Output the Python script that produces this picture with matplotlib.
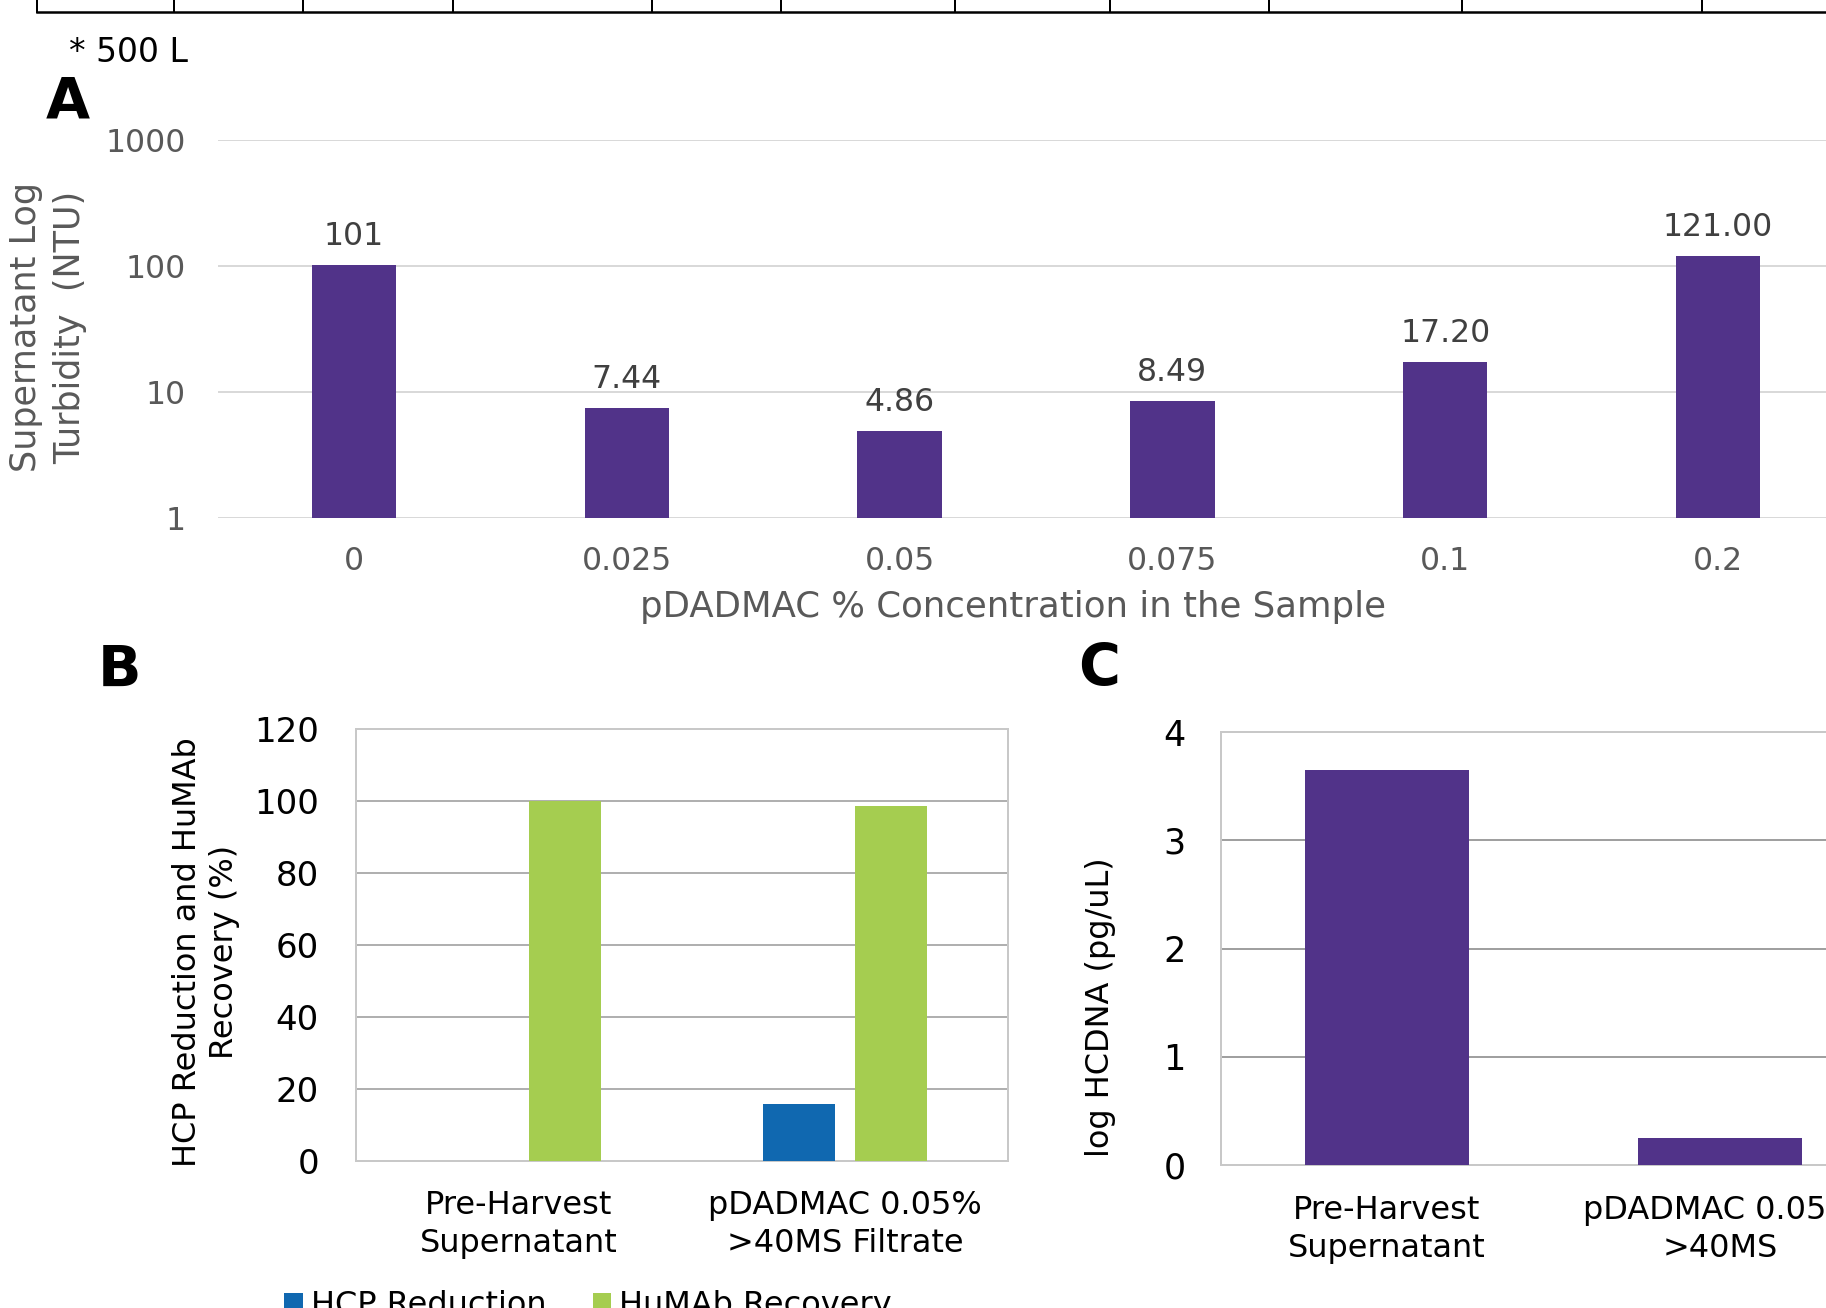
import matplotlib
matplotlib.use("Agg")
import matplotlib.pyplot as plt
from matplotlib.lines import Line2D
from matplotlib.ticker import NullLocator
import numpy as np

#-------data-------
conc_labels = ["0", "0.025", "0.05", "0.075", "0.1", "0.2"]
turbidity = [101, 7.44, 4.86, 8.49, 17.20, 121.00]
turbidity_text = ["101", "7.44", "4.86", "8.49", "17.20", "121.00"]

b_groups = ["Pre-Harvest\nSupernatant", "pDADMAC 0.05%\n>40MS Filtrate"]
hcp_reduction = [0, 15.8]
humab_recovery = [100, 98.6]

c_groups = ["Pre-Harvest\nSupernatant", "pDADMAC 0.05%\n>40MS"]
log_hcdna = [3.65, 0.25]

#-------layout (pixels of the 1826x1308 page)-------
W, H = 1826, 1308
table_cols = [37, 174, 303, 453, 652, 781, 955, 1110, 1269, 1462, 1702]
purple = "#513389"
blue = "#1068b0"
green = "#a5cd50"
grey_txt = "#595959"

plt.rcParams['font.family'] = ['DejaVu Sans']


def fx(px):
    return px / W


def fy(py):
    return 1 - py / H


fig = plt.figure(figsize=(W / 72, H / 72), dpi=72)

# bottom of a table cut off above the figure
fig.add_artist(Line2D([fx(table_cols[0]), 1], [fy(12), fy(12)], color="k", lw=2.5))
for c in table_cols:
    fig.add_artist(Line2D([fx(c), fx(c)], [1, fy(12)], color="k", lw=2))

fig.text(fx(69), fy(53), "* 500 L", fontsize=33, color="k", va="center")
fig.text(fx(46), fy(103), "A", fontsize=57, fontweight="bold", va="center")
fig.text(fx(98), fy(671), "B", fontsize=57, fontweight="bold", va="center")
fig.text(fx(1078), fy(670), "C", fontsize=57, fontweight="bold", va="center")

#-------panel A-------
axA = fig.add_axes([fx(217.6), fy(518), 1636.8 / W, 378 / H])
x = np.arange(len(conc_labels))
barsA = axA.bar(x, turbidity, width=0.31, color=purple, zorder=3)
axA.set_yscale("log")
axA.set_ylim(1, 1000)
axA.set_xlim(-0.5, len(conc_labels) - 0.5)
axA.set_yticks([1, 10, 100, 1000])
axA.set_yticklabels(["1", "10", "100", "1000"])
axA.yaxis.set_minor_locator(NullLocator())
axA.set_xticks(x)
axA.set_xticklabels(conc_labels)
axA.grid(axis="y", color="#d9d9d9", lw=2, zorder=0)
axA.set_axisbelow(True)
for s in axA.spines.values():
    s.set_visible(False)
axA.tick_params(axis="y", length=0, labelsize=31.5, colors=grey_txt, pad=32)
axA.tick_params(axis="x", length=0, labelsize=31.5, colors=grey_txt, pad=28)
axA.bar_label(barsA, labels=turbidity_text, padding=13, fontsize=31.5, color="#404040")
fig.text(fx(48), fy(327), "Supernatant Log\nTurbidity  (NTU)", rotation=90,
         fontsize=35, color=grey_txt, ha="center", va="center", linespacing=1.35)
fig.text(fx(1013), fy(607), "pDADMAC % Concentration in the Sample",
         fontsize=35.5, color=grey_txt, ha="center", va="center")

#-------panel B-------
axB = fig.add_axes([fx(356), fy(1161), 652 / W, 432 / H])
xb = np.arange(len(b_groups))
bw, off = 0.221, 0.142
h1 = axB.bar(xb - off, hcp_reduction, bw, color=blue, label="HCP Reduction", zorder=3)
h2 = axB.bar(xb + off, humab_recovery, bw, color=green, label="HuMAb Recovery", zorder=3)
axB.set_xlim(-0.5, 1.5)
axB.set_ylim(0, 120)
axB.set_yticks(range(0, 121, 20))
axB.set_xticks(xb)
axB.set_xticklabels(b_groups, linespacing=1.3)
axB.grid(axis="y", color="#b0b0b0", lw=2, zorder=0)
axB.set_axisbelow(True)
for s in axB.spines.values():
    s.set_color("#c8c8c8")
    s.set_linewidth(2)
axB.tick_params(axis="y", length=0, labelsize=34, colors="k", pad=37)
axB.tick_params(axis="x", length=0, labelsize=32, colors="k", pad=29)
fig.text(fx(206), fy(952), "HCP Reduction and HuMAb\nRecovery (%)", rotation=90,
         fontsize=32, color="k", ha="center", va="center", linespacing=1.22)
fig.legend(handles=[h1, h2], loc="upper left", bbox_to_anchor=(fx(284), fy(1290)),
           ncol=2, frameon=False, fontsize=32, borderpad=0, borderaxespad=0,
           handlelength=0.58, handleheight=0.58, handletextpad=0.25,
           columnspacing=1.45)

#-------panel C-------
axC = fig.add_axes([fx(1220.5), fy(1165), 666 / W, 433 / H])
xc = np.arange(len(c_groups))
axC.bar(xc, log_hcdna, width=0.49, color=purple, zorder=3)
axC.set_xlim(-0.5, 1.5)
axC.set_ylim(0, 4)
axC.set_yticks(range(0, 5))
axC.set_xticks(xc)
axC.set_xticklabels(c_groups, linespacing=1.3)
axC.grid(axis="y", color="#a0a0a0", lw=2, zorder=0)
axC.set_axisbelow(True)
for s in axC.spines.values():
    s.set_color("#c8c8c8")
    s.set_linewidth(2)
axC.tick_params(axis="y", length=0, labelsize=35, colors="k", pad=35)
axC.tick_params(axis="x", length=0, labelsize=32, colors="k", pad=30)
fig.text(fx(1101), fy(1007), "log HCDNA (pg/uL)", rotation=90,
         fontsize=32, color="k", ha="center", va="center")

fig.savefig("out.png", dpi=72)
